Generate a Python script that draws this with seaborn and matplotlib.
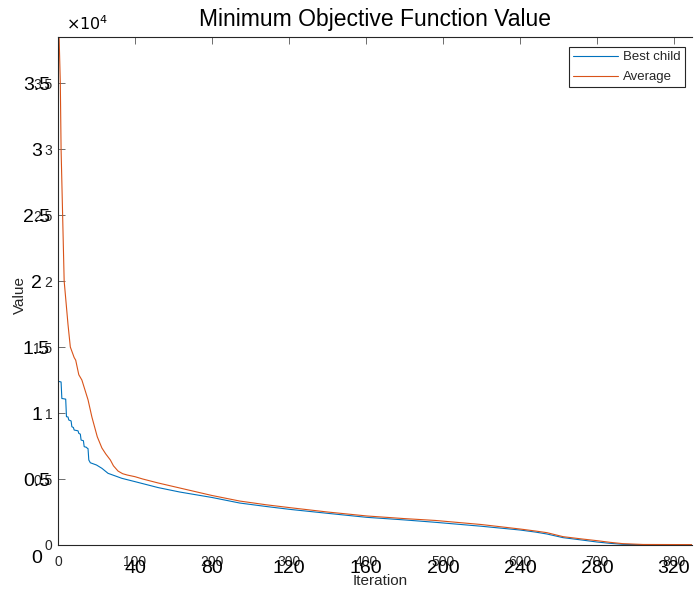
import matplotlib
matplotlib.use("Agg")
import matplotlib.pyplot as plt
from matplotlib.ticker import FuncFormatter
import pandas as pd
import seaborn as sns

sns.set_style("white")
plt.rcParams["font.family"] = ["Liberation Sans", "DejaVu Sans"]

# values
best_iter = [0, 2, 4, 5, 10, 11, 13, 14, 17, 18, 20, 21, 26, 27, 29, 30, 33, 34, 37,
             38, 39, 40, 42, 50, 57, 65, 83, 100, 130, 158, 200, 236, 270, 301, 350,
             401, 450, 490, 550, 600, 620, 635, 656, 680, 700, 717, 734, 760, 823]
best_val = [12400, 12380, 12350, 11100, 11050, 9720, 9700, 9470, 9400, 8960, 8900,
            8710, 8650, 8460, 8400, 7950, 7900, 7450, 7400, 7330, 7300, 6440, 6230,
            6060, 5810, 5430, 5050, 4800, 4350, 4015, 3600, 3180, 2920, 2700, 2400,
            2096, 1900, 1720, 1420, 1136, 980, 833, 556, 380, 227, 126, 50, 15, 5]

avg_iter = [0, 1, 3, 4, 6, 8, 13, 16, 21, 23, 27, 31, 39, 44, 51, 57, 62, 68, 72, 78,
            84, 90, 100, 110, 130, 158, 200, 236, 270, 301, 350, 401, 450, 490, 550,
            600, 620, 635, 656, 680, 700, 717, 734, 760, 823]
avg_val = [41000, 39500, 35000, 30000, 25000, 20000, 16700, 15000, 14200, 14000,
           12900, 12500, 11000, 9700, 8200, 7350, 6900, 6440, 6000, 5600, 5400, 5300,
           5175, 5000, 4700, 4320, 3750, 3330, 3050, 2830, 2500, 2200, 2000, 1860,
           1550, 1212, 1060, 934, 631, 460, 328, 202, 100, 40, 30]

x_ticks = [0, 100, 200, 300, 400, 500, 600, 700, 800]
y_ticks = [0, 5000, 10000, 15000, 20000, 25000, 30000, 35000]
big_x_ticks = [40, 80, 120, 160, 200, 240, 280, 320]
big_y_ticks = [0.5, 1, 1.5, 2, 2.5, 3, 3.5]

BLUE = "#0072BD"
ORANGE = "#D95319"
DARK = "#262626"

df_best = pd.DataFrame({"iteration": best_iter, "value": best_val})
df_avg = pd.DataFrame({"iteration": avg_iter, "value": avg_val})

fig = plt.figure(figsize=(6.94, 5.90), dpi=100)
rect = [58 / 694, 45 / 590, 634 / 694, 508 / 590]
ax = fig.add_axes(rect)

sns.lineplot(data=df_best, x="iteration", y="value", ax=ax, color=BLUE,
             linewidth=0.8, label="Best child")
sns.lineplot(data=df_avg, x="iteration", y="value", ax=ax, color=ORANGE,
             linewidth=0.8, label="Average")

ax.set_xlim(0, 823.4)
ax.set_ylim(0, 38485)
ax.set_xticks(x_ticks)
ax.set_yticks(y_ticks)
ax.yaxis.set_major_formatter(FuncFormatter(lambda v, p: f"{v / 1e4:g}"))
ax.tick_params(axis="both", direction="in", length=5, width=0.6, color="#555555",
               labelsize=10, labelcolor=DARK)
ax.tick_params(axis="x", top=True, pad=7)
ax.tick_params(axis="y", left=True, pad=4)
for side in ["left", "bottom", "top"]:
    ax.spines[side].set_color(DARK)
    ax.spines[side].set_linewidth(0.8)
ax.spines["right"].set_visible(False)

ax.set_title("Minimum Objective Function Value", fontsize=16.5, pad=8, color="black")
ax.set_xlabel("Iteration", fontsize=11)
ax.xaxis.set_label_coords(0.508, -0.058)
ax.set_ylabel("Value", fontsize=11)
ax.yaxis.set_label_coords(-0.049, 0.492)
ax.text(0.013, 1.008, r"$\times10^{4}$", transform=ax.transAxes,
        ha="left", va="bottom", fontsize=11.5, color="black")

ax.legend(loc="upper right", bbox_to_anchor=(685 / 694, 1 - 47 / 590),
          bbox_transform=fig.transFigure, fontsize=9.5, handlelength=3.4,
          handletextpad=0.4, labelspacing=0.6, borderpad=0.3, borderaxespad=0,
          frameon=True, fancybox=False, edgecolor=DARK, framealpha=1)
ax.get_legend().get_frame().set_linewidth(0.8)

# second set of overlapping tick labels
ax2 = fig.add_axes(rect, facecolor="none")
ax2.set_xlim(0, 823.4 * 0.4)
ax2.set_ylim(0, 3.8485)
ax2.set_xticks(big_x_ticks)
ax2.set_yticks(big_y_ticks)
ax2.set_yticklabels([f"{v:g}" for v in big_y_ticks], ha="center")
ax2.tick_params(axis="both", length=0, labelsize=14, labelcolor="black")
ax2.tick_params(axis="x", pad=10.5)
ax2.tick_params(axis="y", pad=15.5)
for side in ax2.spines:
    ax2.spines[side].set_visible(False)
ax2.text(-0.034, -0.026, "0", transform=ax2.transAxes, ha="center", va="center",
         fontsize=14, color="black")

fig.savefig("out.png", dpi=100)
